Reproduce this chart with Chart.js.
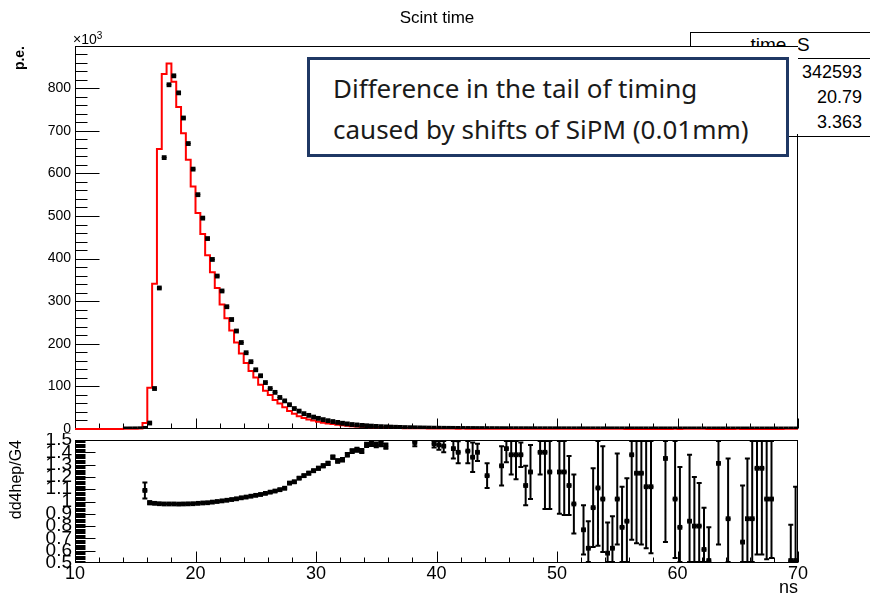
<!DOCTYPE html>
<html>
<head>
<meta charset="utf-8">
<title>Scint time</title>
<script src="https://cdn.jsdelivr.net/npm/chart.js@4.4.1/dist/chart.umd.min.js"></script>
<style>
  html, body { margin:0; padding:0; background:#fff; }
  body { position:relative; width:870px; height:597px; overflow:hidden; font-family:"Liberation Sans", Arial, sans-serif; color:#000; }
  canvas { position:absolute; left:0; z-index:2; }
  #cTop { top:0; }
  #cBot { top:433px; }
  #title { position:absolute; left:0; top:8px; width:874px; text-align:center; font-size:17px; line-height:20px; z-index:5; }
  #mult { position:absolute; left:73px; top:31px; font-size:14px; line-height:14px; z-index:5; }
  #mult sup { font-size:10px; line-height:10px; vertical-align:5px; }
  #stats { position:absolute; left:690px; top:32px; width:200px; height:103px; border:1px solid #000; background:#fff; z-index:1; }
  #stats .t { position:absolute; left:0; width:178px; top:2px; text-align:center; font-size:19px; line-height:19px; }
  #stats .sep { position:absolute; left:0; right:0; top:25px; border-top:1px solid #000; }
  #stats .v { position:absolute; right:29px; font-size:18px; line-height:18px; text-align:right; }
  #cover { position:absolute; left:680px; top:47px; width:118px; height:87px; background:#fff; z-index:3; }
  #note { position:absolute; left:307px; top:57px; width:482px; height:100px; box-sizing:border-box; border:3px solid #1f3864; background:#fff; z-index:4; padding:8px 0 0 23px; font-family:"Noto Sans", sans-serif; font-size:26px; line-height:41px; color:#1a1a1a; white-space:nowrap; }
</style>
</head>
<body>
<div id="title">Scint time</div>
<div id="mult">×10<sup>3</sup></div>
<div id="stats">
  <div class="t">time_S</div>
  <div class="sep"></div>
  <div class="v" style="top:30px">342593</div>
  <div class="v" style="top:55px">20.79</div>
  <div class="v" style="top:80px">3.363</div>
</div>
<div id="cover"></div>
<div id="note">Difference in the tail of timing<br>caused by shifts of SiPM (0.01mm)</div>
<canvas id="cTop" width="870" height="433"></canvas>
<canvas id="cBot" width="870" height="164"></canvas>
<script>
// ---------------- data ----------------
const BIN_WIDTH = 0.4;          // ns
const X_MIN = 10, X_MAX = 70;   // ns

const binCenters = [
  10.2,10.6,11.0,11.4,11.8,12.2,12.6,13.0,13.4,13.8,
  14.2,14.6,15.0,15.4,15.8,16.2,16.6,17.0,17.4,17.8,
  18.2,18.6,19.0,19.4,19.8,20.2,20.6,21.0,21.4,21.8,
  22.2,22.6,23.0,23.4,23.8,24.2,24.6,25.0,25.4,25.8,
  26.2,26.6,27.0,27.4,27.8,28.2,28.6,29.0,29.4,29.8,
  30.2,30.6,31.0,31.4,31.8,32.2,32.6,33.0,33.4,33.8,
  34.2,34.6,35.0,35.4,35.8,36.2,36.6,37.0,37.4,37.8,
  38.2,38.6,39.0,39.4,39.8,40.2,40.6,41.0,41.4,41.8,
  42.2,42.6,43.0,43.4,43.8,44.2,44.6,45.0,45.4,45.8,
  46.2,46.6,47.0,47.4,47.8,48.2,48.6,49.0,49.4,49.8,
  50.2,50.6,51.0,51.4,51.8,52.2,52.6,53.0,53.4,53.8,
  54.2,54.6,55.0,55.4,55.8,56.2,56.6,57.0,57.4,57.8,
  58.2,58.6,59.0,59.4,59.8,60.2,60.6,61.0,61.4,61.8,
  62.2,62.6,63.0,63.4,63.8,64.2,64.6,65.0,65.4,65.8,
  66.2,66.6,67.0,67.4,67.8,68.2,68.6,69.0,69.4,69.8
];

// dd4hep (black points), p.e. x10^3
const dd4hep = [
  null,null,null,null,null,null,null,null,null,null,
  0.2,0.3,0.4,0.6,1.5,14,95,331,637,808,
  829,789,730,670,610,550,495,447,398,359,
  324,287,257,230,203,179,158,139,125,109,
  95,86,74,66,57,48,42,36,32,28,
  25,22,19.5,17.5,15.5,13.5,12,10.5,9.5,8.5,
  7.6,6.8,6.1,5.5,5.0,4.5,4.1,3.7,3.4,3.1,
  2.8,2.6,2.4,2.2,2.0,1.85,1.7,1.6,1.5,1.4,
  1.3,1.25,1.2,1.1,1.05,1.0,0.95,0.9,0.85,0.8,
  0.78,0.75,0.72,0.7,0.67,0.65,0.62,0.6,0.58,0.56,
  0.54,0.52,0.5,0.48,0.47,0.45,0.44,0.43,0.42,0.41,
  0.4,0.39,0.38,0.37,0.36,0.35,0.34,0.33,0.32,0.31,
  0.3,0.3,0.29,0.28,0.28,0.27,0.26,0.26,0.25,0.25,
  0.24,0.24,0.23,0.23,0.22,0.22,0.21,0.21,0.2,0.2,
  0.2,0.19,0.19,0.18,0.18,0.18,0.17,0.17,0.17,0.16
];

// G4 (red histogram), p.e. x10^3
const g4 = [
  0,0,0,0,0,0,0,0,0,0,
  0.2,0.3,0.4,0.6,1.4,14.2,97,341,657,833,
  858,815,756,694,632,569,507,458,408,368,
  331,292,260,231,203,177,155,136,121,104,
  90,80,68,60,51,42,36,30,26,22.5,
  19.7,17.1,14.9,12.9,11.7,10.1,8.7,7.4,6.7,6.0,
  5.2,4.6,4.2,3.7,3.4,2.9,2.6,2.3,2.1,1.9,
  1.9,1.7,1.6,1.5,1.36,1.27,1.17,1.05,1.05,1.0,
  0.85,0.89,0.88,0.79,0.7,0.83,0.63,0.6,0.66,0.56,
  0.57,0.54,0.52,0.62,0.54,0.45,0.44,0.43,0.47,0.37,
  0.44,0.42,0.44,0.49,0.33,0.58,0.71,0.45,0.38,0.4,
  0.69,0.63,0.37,0.47,0.43,0.25,0.28,0.27,0.29,0.28,
  0.2,0.2,0.21,0.19,0.27,0.34,0.17,0.31,0.31,0.31,
  0.39,0.46,0.15,0.18,0.15,0.26,0.15,0.15,0.3,0.23,
  0.23,0.15,0.15,0.18,0.18,0.12,0.12,0.12,0.33,0.31
];

// ratio dd4hep/G4 as drawn in the lower pad (null = not visible)
const ratio = [
  null,null,null,null,null,null,null,null,null,null,
  null,null,null,null,1.09,0.99,0.985,0.982,0.98,0.98,
  0.98,0.979,0.98,0.981,0.982,0.985,0.988,0.99,0.995,1.0,
  1.005,1.01,1.016,1.022,1.03,1.036,1.043,1.05,1.057,1.066,
  1.076,1.085,1.096,1.108,1.15,1.16,1.19,1.21,1.23,1.25,
  1.27,1.29,1.31,1.36,1.33,1.34,1.38,1.41,1.42,1.41,
  1.46,1.47,1.46,1.47,1.45,null,null,null,null,null,
  1.48,null,null,null,1.47,1.46,1.45,null,1.43,1.40,
  null,1.41,1.36,1.40,null,1.21,null,null,1.29,1.43,
  1.38,1.38,1.38,1.13,1.24,null,1.40,1.40,1.24,null,
  1.24,1.24,1.13,0.98,null,0.77,0.62,0.95,1.11,1.02,
  0.58,0.62,1.02,0.79,0.84,1.38,1.23,1.23,1.12,1.12,
  null,null,1.35,null,1.02,0.79,null,0.84,0.80,0.80,
  0.61,0.52,null,1.31,null,0.86,null,null,0.67,0.86,
  0.86,1.27,1.27,1.02,1.02,null,null,null,0.52,0.52
];

const ratioErr = [
  0,0,0,0,0,0,0,0,0,0,
  0,0,0,0,0.065,0.012,0.006,0.004,0.003,0.003,
  0.003,0.003,0.003,0.003,0.003,0.003,0.003,0.003,0.004,0.004,
  0.004,0.004,0.004,0.005,0.005,0.005,0.005,0.006,0.006,0.006,
  0.007,0.007,0.008,0.008,0.009,0.009,0.01,0.01,0.011,0.011,
  0.012,0.012,0.013,0.013,0.014,0.014,0.015,0.015,0.016,0.016,
  0.017,0.018,0.019,0.02,0.021,0,0,0,0,0,
  0.03,0,0,0,0.03,0.04,0.05,0,0.08,0.09,
  0,0.10,0.12,0.07,0,0.10,0,0,0.16,0.11,
  0.16,0.20,0.10,0.16,0.22,0,0.18,0.46,0.30,0,
  0.34,0.35,0.24,0.24,0,0.20,0.22,0.32,0.47,0.43,
  0.25,0.26,0.37,0.33,0.35,0.69,0.57,0.58,0.50,0.54,
  0,0,0.68,0,0.48,0.49,0,0.54,0.40,0.35,
  0.34,0.27,0,0.66,0,0.49,0,0,0.46,0.49,
  0.64,0.70,0.70,0.49,0.48,0,0,0,0.29,0.60
];

const topYTicks   = [0,100,200,300,400,500,600,700,800];
const ratioYTicks = [0.5,0.6,0.7,0.8,0.9,1.0,1.1,1.2,1.3,1.4,1.5];
const ratioXTicks = [10,20,30,40,50,60,70];

// ---------------- plugins ----------------
const FONT = 'Liberation Sans';

const binBars = {
  id: 'binBars',
  afterDatasetsDraw(chart, args, o) {
    if (!o || !o.centers) return;
    const {ctx, chartArea: a, scales: {x, y}} = chart;
    ctx.save();
    ctx.beginPath(); ctx.rect(a.left, a.top, a.right - a.left, a.bottom - a.top); ctx.clip();
    ctx.strokeStyle = '#000'; ctx.lineWidth = o.lw;
    ctx.beginPath();
    o.centers.forEach((c, i) => {
      const v = o.values[i]; if (v == null) return;
      const py = y.getPixelForValue(v);
      ctx.moveTo(x.getPixelForValue(c - o.half), py);
      ctx.lineTo(x.getPixelForValue(c + o.half), py);
      if (o.errors && o.errors[i] > 0) {
        const e = o.errors[i], px = x.getPixelForValue(c);
        const yt = Math.max(a.top + 1, y.getPixelForValue(v + e));
        const yb = Math.min(a.bottom - 1, y.getPixelForValue(v - e));
        ctx.moveTo(px, yt); ctx.lineTo(px, yb);
        ctx.moveTo(px - o.cap, yt); ctx.lineTo(px + o.cap, yt);
        ctx.moveTo(px - o.cap, yb); ctx.lineTo(px + o.cap, yb);
      }
    });
    ctx.stroke();
    ctx.restore();
  }
};

const frameTicks = {
  id: 'frameTicks',
  beforeDatasetsDraw(chart, args, o) {
    const {ctx, chartArea: a, scales: {x, y}} = chart;
    ctx.save();
    ctx.strokeStyle = '#000'; ctx.lineWidth = 1;
    const L = Math.round(a.left) + 0.5, R = Math.round(a.right) - 0.5;
    const T = Math.round(a.top) + 0.5, B = Math.round(a.bottom) - 0.5;
    ctx.strokeRect(L, T, R - L, B - T);
    ctx.beginPath();
    const nx = Math.round((o.xMax - o.xMin) / o.xMinor);
    for (let i = 0; i <= nx; i++) {
      const v = o.xMin + i * o.xMinor;
      const major = (i % Math.round(o.xMajor / o.xMinor)) === 0;
      const px = Math.round(x.getPixelForValue(v)) + 0.5;
      ctx.moveTo(px, B); ctx.lineTo(px, B - (major ? o.xMajorLen : o.xMinorLen));
    }
    const ny = Math.round((o.yMax - o.yMin) / o.yMinor);
    for (let i = 0; i <= ny; i++) {
      const v = o.yMin + i * o.yMinor;
      const major = (i % Math.round(o.yMajor / o.yMinor)) === 0;
      const py = Math.round(y.getPixelForValue(v)) + 0.5;
      if (py < T - 0.1 || py > B + 0.1) continue;
      ctx.moveTo(L, py); ctx.lineTo(L + (major ? o.yMajorLen : o.yMinorLen), py);
    }
    ctx.stroke();
    ctx.restore();
  }
};

function noPad(s) { s.paddingTop = 0; s.paddingBottom = 0; s.paddingLeft = 0; s.paddingRight = 0; }

// ---------------- top pad ----------------
const histPts = binCenters.map((c, i) => ({x: c - BIN_WIDTH / 2, y: g4[i]}));
histPts.push({x: binCenters[binCenters.length - 1] + BIN_WIDTH / 2, y: g4[g4.length - 1]});
const ddPts = [];
binCenters.forEach((c, i) => { if (dd4hep[i] != null) ddPts.push({x: c, y: dd4hep[i]}); });

new Chart(document.getElementById('cTop'), {
  type: 'scatter',
  data: { datasets: [
    { label: 'dd4hep', data: ddPts, pointStyle: 'rect', pointRadius: 3.4, backgroundColor: '#000', borderColor: '#000', borderWidth: 0, showLine: false, order: 0 },
    { label: 'G4', type: 'line', data: histPts, stepped: 'after', borderColor: '#ff0000', borderWidth: 2, pointRadius: 0, fill: false, order: 1, clip: 3 }
  ]},
  options: {
    responsive: false, animation: false, events: [],
    layout: { padding: { left: 0, right: 72, top: 46, bottom: 3 } },
    plugins: {
      legend: { display: false }, tooltip: { enabled: false },
      binBars: { centers: binCenters, values: dd4hep, half: BIN_WIDTH / 2, lw: 1 },
      frameTicks: { xMin: 10, xMax: 70, xMajor: 10, xMinor: 2, xMajorLen: 10, xMinorLen: 5,
                    yMin: 0, yMax: 880, yMajor: 100, yMinor: 20, yMajorLen: 24, yMinorLen: 12 }
    },
    scales: {
      x: { type: 'linear', min: X_MIN, max: X_MAX, display: false },
      y: { type: 'linear', min: 0, max: 899,
           afterFit(s) { s.width = 75; noPad(s); },
           afterBuildTicks(s) { s.ticks = topYTicks.map(v => ({value: v})); },
           ticks: { color: '#000', font: { family: FONT, size: 14 }, padding: 4, autoSkip: false, callback: v => String(v) },
           grid: { display: false, drawTicks: false }, border: { display: false },
           title: { display: true, text: 'p.e.', align: 'end', color: '#000', font: { family: FONT, size: 14, weight: 'bold' }, padding: { top: 12, bottom: 0 } } }
    }
  },
  plugins: [binBars, frameTicks]
});

// ---------------- ratio pad ----------------
const rPts = [];
binCenters.forEach((c, i) => { if (ratio[i] != null) rPts.push({x: c, y: ratio[i]}); });

new Chart(document.getElementById('cBot'), {
  type: 'scatter',
  data: { datasets: [
    { label: 'dd4hep/G4', data: rPts, pointStyle: 'rect', pointRadius: 3.4, backgroundColor: '#000', borderColor: '#000', borderWidth: 0, showLine: false }
  ]},
  options: {
    responsive: false, animation: false, events: [],
    layout: { padding: { left: 0, right: 72, top: 7, bottom: 0 } },
    plugins: {
      legend: { display: false }, tooltip: { enabled: false },
      binBars: { centers: binCenters, values: ratio, errors: ratioErr, half: BIN_WIDTH / 2, lw: 2, cap: 2.5 },
      frameTicks: { xMin: 10, xMax: 70, xMajor: 10, xMinor: 2, xMajorLen: 11, xMinorLen: 5,
                    yMin: 0.5, yMax: 1.5, yMajor: 0.1, yMinor: 0.01, yMajorLen: 20, yMinorLen: 10 }
    },
    scales: {
      x: { type: 'linear', min: X_MIN, max: X_MAX,
           afterFit(s) { s.height = 34; noPad(s); },
           afterBuildTicks(s) { s.ticks = ratioXTicks.map(v => ({value: v})); },
           ticks: { color: '#000', font: { family: FONT, size: 18 }, padding: 0, maxRotation: 0, autoSkip: false, callback: v => String(v) },
           grid: { display: false, drawTicks: false }, border: { display: false },
           title: { display: true, text: 'ns', align: 'end', color: '#000', font: { family: FONT, size: 18, lineHeight: 1 }, padding: { top: 0, bottom: 0 } } },
      y: { type: 'linear', min: 0.5, max: 1.5,
           afterFit(s) { s.width = 75; noPad(s); },
           afterBuildTicks(s) { s.ticks = ratioYTicks.map(v => ({value: v})); },
           ticks: { color: '#000', font: { family: FONT, size: 19 }, padding: 3, autoSkip: false, callback: v => (Math.abs(v - 1) < 1e-9 ? '1' : (+v).toFixed(1)) },
           grid: { display: false, drawTicks: false }, border: { display: false },
           title: { display: true, text: 'dd4hep/G4', align: 'end', color: '#000', font: { family: FONT, size: 16 }, padding: { top: 7, bottom: 0 } } }
    }
  },
  plugins: [binBars, frameTicks]
});
</script>
</body>
</html>
